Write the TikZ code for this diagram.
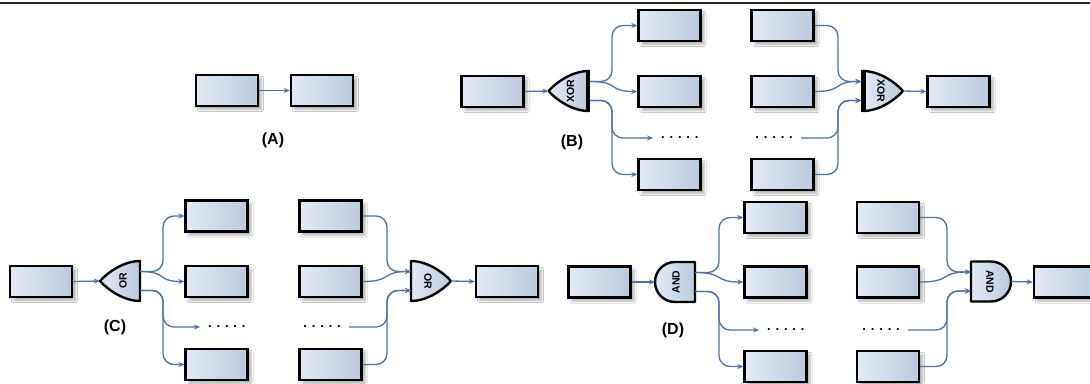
\documentclass[tikz,border=0pt]{standalone}
\usepackage{fontspec}
\setmainfont{Liberation Sans}
\usetikzlibrary{arrows.meta,shadows.blur,calc}
\definecolor{lnk}{HTML}{4D72AA}
\definecolor{bxL}{HTML}{E3EAF5}
\definecolor{bxR}{HTML}{BACADF}
\tikzset{
 box/.style={draw=black, line width=2.4pt, minimum width=62pt, minimum height=31pt, inner sep=0pt,
   left color=bxL, right color=bxR,
   blur shadow={shadow xshift=3.5pt, shadow yshift=-3.5pt, shadow blur steps=6, shadow opacity=30}},
 conn/.style={draw=lnk, line width=1.3pt, -{Stealth[length=6pt,width=5pt]}, rounded corners=11pt},
 lab/.style={font=\bfseries\fontsize{16}{16}\selectfont, inner sep=1pt},
 dots/.style={font=\bfseries\fontsize{13}{13}\selectfont, inner xsep=8pt, inner ysep=1pt},
 gatetext/.style={font=\bfseries\fontsize{10.5}{10.5}\selectfont, inner sep=0pt},
 gatebody/.style={draw=black, line width=2.4pt, left color=bxL, right color=bxR, line join=round},
 orL/.pic={
  \path[gatebody] (20,-20) .. controls (4,-20) and (-12,-9) .. (-20,0) .. controls (-12,9) and (4,20) .. (20,20) -- cycle;
  \node[gatetext,rotate=90] (-t) at (3,0) {#1};
  \coordinate (-in) at (-20,0);
  \coordinate (-o1) at (20,-9.5);
  \coordinate (-o2) at (20,9.5);
 },
 xorL/.pic={
  \path[gatebody] (20,-20) .. controls (4,-20) and (-12,-9) .. (-20,0) .. controls (-12,9) and (4,20) .. (20,20) -- cycle;
  \draw[line width=4.5pt] (19.5,-21) -- (19.5,21);
  \node[gatetext,rotate=90] (-t) at (2,0) {#1};
  \coordinate (-in) at (-20,0);
  \coordinate (-o1) at (21.5,-9.5);
  \coordinate (-o2) at (21.5,9.5);
 },
 orR/.pic={
  \path[gatebody] (-20,-20) .. controls (-4,-20) and (12,-9) .. (20,0) .. controls (12,9) and (-4,20) .. (-20,20) -- cycle;
  \node[gatetext,rotate=-90] (-t) at (-3,0) {#1};
  \coordinate (-out) at (20,0);
  \coordinate (-i1) at (-20,-9.5);
  \coordinate (-i2) at (-20,9.5);
 },
 xorR/.pic={
  \path[gatebody] (-20,-20) .. controls (-4,-20) and (12,-9) .. (20,0) .. controls (12,9) and (-4,20) .. (-20,20) -- cycle;
  \draw[line width=4.5pt] (-19.5,-21) -- (-19.5,21);
  \node[gatetext,rotate=-90] (-t) at (-2,0) {#1};
  \coordinate (-out) at (20,0);
  \coordinate (-i1) at (-21.5,-9.5);
  \coordinate (-i2) at (-21.5,9.5);
 },
 andL/.pic={
  \path[gatebody] (20,-20) -- (0,-20) .. controls (-11.05,-20) and (-20,-11.05) .. (-20,0) .. controls (-20,11.05) and (-11.05,20) .. (0,20) -- (20,20) -- cycle;
  \node[gatetext,rotate=90] (-t) at (1,0) {#1};
  \coordinate (-in) at (-20,0);
  \coordinate (-o1) at (20,-9.5);
  \coordinate (-o2) at (20,9.5);
 },
 andR/.pic={
  \path[gatebody] (-20,-20) -- (0,-20) .. controls (11.05,-20) and (20,-11.05) .. (20,0) .. controls (20,11.05) and (11.05,20) .. (0,20) -- (-20,20) -- cycle;
  \node[gatetext,rotate=-90] (-t) at (-1,0) {#1};
  \coordinate (-out) at (20,0);
  \coordinate (-i1) at (-20,-9.5);
  \coordinate (-i2) at (-20,9.5);
 },
}
\begin{document}
\begin{tikzpicture}[x=1pt,y=-1pt]
\useasboundingbox[fill=white] (0,0) rectangle (1090,383);
\draw[line width=1.3pt, black!85] (0,3) -- (1090,3);

% ---------- (A)
\node[box] (a1) at (227,90.5) {};
\node[box] (a2) at (322,90.5) {};
\node[lab] (la) at (273,140) {(A)};
\draw[conn] (a1) -- (a2);

% ---------- (B)
\coordinate (tB1) at (612,0);
\coordinate (tB2) at (838,0);
\node[box] (bin) at (492.5,91.5) {};
\node[box] (b11) at (669.5,25.5) {};
\node[box] (b12) at (669.5,91.5) {};
\node[dots,anchor=west] (dB1) at (653,138) {. . . . .};
\node[box] (b14) at (669.5,174.5) {};
\node[box] (b21) at (782.5,25.5) {};
\node[box] (b22) at (782.5,91.5) {};
\node[dots,anchor=east] (dB2) at (801,138) {. . . . .};
\node[box] (b24) at (782.5,174.5) {};
\node[box] (bout) at (958.5,91.5) {};
\node[lab] (lb) at (572,142) {(B)};
\pic (gB1) at (568.5,91) {xorL=XOR};
\pic (gB2) at (883,91) {xorR=XOR};
\draw[conn] (bin.east) -- (gB1-in);
\draw[conn] (gB1-o1) -| (tB1 |- b11.west) -- (b11.west);
\draw[conn] (gB1-o1) .. controls ($(gB1-o1)+(30,0)$) and ($(b12.west)+(-30,0)$) .. (b12.west);
\draw[conn] (gB1-o2) -| (tB1 |- dB1.west) -- (dB1.west);
\draw[conn] (gB1-o2) -| (tB1 |- b14.west) -- (b14.west);
\draw[conn] (b21.east) -| (tB2 |- gB2-i1) -- (gB2-i1);
\draw[conn] (b22.east) .. controls ($(b22.east)+(30,0)$) and ($(gB2-i1)+(-30,0)$) .. (gB2-i1);
\draw[conn] (dB2.east) -| (tB2 |- gB2-i2) -- (gB2-i2);
\draw[conn] (b24.east) -| (tB2 |- gB2-i2) -- (gB2-i2);
\draw[conn] (gB2-out) -- (bout.west);

% ---------- (C)
\coordinate (tC1) at (163,0);
\coordinate (tC2) at (387,0);
\node[box] (cin) at (41,281.5) {};
\node[box] (c11) at (216.5,216) {};
\node[box] (c12) at (216.5,281.5) {};
\node[dots,anchor=west] (dC1) at (200,327) {. . . . .};
\node[box] (c14) at (216.5,364.5) {};
\node[box] (c21) at (330.5,216) {};
\node[box] (c22) at (330.5,281.5) {};
\node[dots,anchor=east] (dC2) at (349,327) {. . . . .};
\node[box] (c24) at (330.5,364.5) {};
\node[box] (cout) at (507,281.5) {};
\node[lab] (lc) at (115,327) {(C)};
\pic (gC1) at (120,281) {orL=OR};
\pic (gC2) at (431,281) {orR=OR};
\draw[conn] (cin.east) -- (gC1-in);
\draw[conn] (gC1-o1) -| (tC1 |- c11.west) -- (c11.west);
\draw[conn] (gC1-o1) .. controls ($(gC1-o1)+(28,0)$) and ($(c12.west)+(-28,0)$) .. (c12.west);
\draw[conn] (gC1-o2) -| (tC1 |- dC1.west) -- (dC1.west);
\draw[conn] (gC1-o2) -| (tC1 |- c14.west) -- (c14.west);
\draw[conn] (c21.east) -| (tC2 |- gC2-i1) -- (gC2-i1);
\draw[conn] (c22.east) .. controls ($(c22.east)+(30,0)$) and ($(gC2-i1)+(-30,0)$) .. (gC2-i1);
\draw[conn] (dC2.east) -| (tC2 |- gC2-i2) -- (gC2-i2);
\draw[conn] (c24.east) -| (tC2 |- gC2-i2) -- (gC2-i2);
\draw[conn] (gC2-out) -- (cout.west);

% ---------- (D)
\coordinate (tD1) at (719,0);
\coordinate (tD2) at (947,0);
\node[box] (din) at (599.5,282) {};
\node[box] (d11) at (775.5,217.5) {};
\node[box] (d12) at (775.5,282) {};
\node[dots,anchor=west] (dD1) at (759,330) {. . . . .};
\node[box] (d14) at (775.5,366.5) {};
\node[box] (d21) at (888,217.5) {};
\node[box] (d22) at (888,282) {};
\node[dots,anchor=east] (dD2) at (908,330) {. . . . .};
\node[box] (d24) at (888,366.5) {};
\node[box] (dout) at (1065,282) {};
\node[lab] (ld) at (673,330) {(D)};
\pic (gD1) at (675,282) {andL=AND};
\pic (gD2) at (991,281.5) {andR=AND};
\draw[conn] (din.east) -- (gD1-in);
\draw[conn] (gD1-o1) -| (tD1 |- d11.west) -- (d11.west);
\draw[conn] (gD1-o1) .. controls ($(gD1-o1)+(30,0)$) and ($(d12.west)+(-30,0)$) .. (d12.west);
\draw[conn] (gD1-o2) -| (tD1 |- dD1.west) -- (dD1.west);
\draw[conn] (gD1-o2) -| (tD1 |- d14.west) -- (d14.west);
\draw[conn] (d21.east) -| (tD2 |- gD2-i1) -- (gD2-i1);
\draw[conn] (d22.east) .. controls ($(d22.east)+(32,0)$) and ($(gD2-i1)+(-32,0)$) .. (gD2-i1);
\draw[conn] (dD2.east) -| (tD2 |- gD2-i2) -- (gD2-i2);
\draw[conn] (d24.east) -| (tD2 |- gD2-i2) -- (gD2-i2);
\draw[conn] (gD2-out) -- (dout.west);
\end{tikzpicture}
\end{document}
